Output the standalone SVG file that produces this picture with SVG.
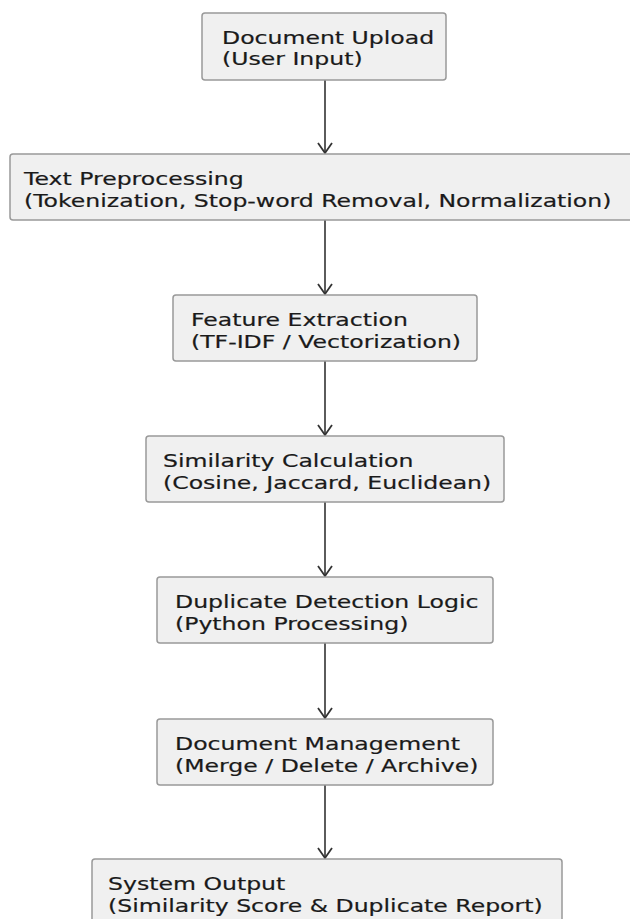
<svg xmlns="http://www.w3.org/2000/svg" width="630" height="919" viewBox="0 0 630 919">
<defs>
<style>
.box{fill:#f0f0f0;stroke:#999;stroke-width:1.5}
.t{font-family:"DejaVu Sans",sans-serif;font-size:18px;fill:#1a1a1a;stroke:#1a1a1a;stroke-width:0.2}
.c{stroke:#333;stroke-width:1.6;fill:none}
</style>
<marker id="ah" viewBox="0 0 12 16" refX="11" refY="8" markerWidth="12" markerHeight="16" markerUnits="userSpaceOnUse" orient="auto">
<path d="M1,1 L11,8 L1,15" fill="none" stroke="#333" stroke-width="1.8"/>
</marker>
</defs>
<rect width="630" height="919" fill="#fff"/>
<g id="connectors">
<line class="c" x1="325" y1="80" x2="325" y2="153" marker-end="url(#ah)"/>
<line class="c" x1="325" y1="220" x2="325" y2="294" marker-end="url(#ah)"/>
<line class="c" x1="325" y1="361" x2="325" y2="435" marker-end="url(#ah)"/>
<line class="c" x1="325" y1="502" x2="325" y2="576" marker-end="url(#ah)"/>
<line class="c" x1="325" y1="643" x2="325" y2="718" marker-end="url(#ah)"/>
<line class="c" x1="325" y1="785" x2="325" y2="858" marker-end="url(#ah)"/>
</g>
<g id="n1">
<rect class="box" x="202" y="13" width="244" height="67" rx="3"/>
<text class="t" transform="translate(222,44) scale(1.31,1)">Document Upload</text>
<text class="t" transform="translate(222,65) scale(1.31,1)">(User Input)</text>
</g>
<g id="n2">
<rect class="box" x="10" y="154" width="630" height="66" rx="3"/>
<text class="t" transform="translate(24,185) scale(1.31,1)">Text Preprocessing</text>
<text class="t" transform="translate(24,207) scale(1.31,1)">(Tokenization, Stop-word Removal, Normalization)</text>
</g>
<g id="n3">
<rect class="box" x="173" y="295" width="304" height="66" rx="3"/>
<text class="t" transform="translate(191,326) scale(1.31,1)">Feature Extraction</text>
<text class="t" transform="translate(191,348) scale(1.31,1)">(TF-IDF / Vectorization)</text>
</g>
<g id="n4">
<rect class="box" x="146" y="436" width="358" height="66" rx="3"/>
<text class="t" transform="translate(163,467) scale(1.31,1)">Similarity Calculation</text>
<text class="t" transform="translate(163,489) scale(1.31,1)">(Cosine, Jaccard, Euclidean)</text>
</g>
<g id="n5">
<rect class="box" x="157" y="577" width="336" height="66" rx="3"/>
<text class="t" transform="translate(175,608) scale(1.31,1)">Duplicate Detection Logic</text>
<text class="t" transform="translate(175,630) scale(1.31,1)">(Python Processing)</text>
</g>
<g id="n6">
<rect class="box" x="157" y="719" width="336" height="66" rx="3"/>
<text class="t" transform="translate(175,750) scale(1.31,1)">Document Management</text>
<text class="t" transform="translate(175,772) scale(1.31,1)">(Merge / Delete / Archive)</text>
</g>
<g id="n7">
<rect class="box" x="92" y="859" width="470" height="70" rx="3"/>
<text class="t" transform="translate(108,890) scale(1.31,1)">System Output</text>
<text class="t" transform="translate(108,912) scale(1.31,1)">(Similarity Score &amp; Duplicate Report)</text>
</g>
</svg>
